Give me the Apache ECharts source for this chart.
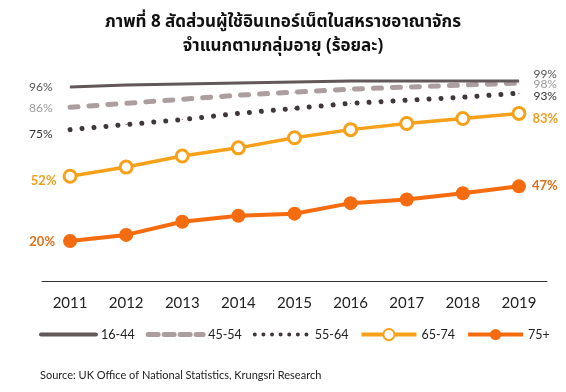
<!DOCTYPE html>
<html><head><meta charset="utf-8">
<script src="https://cdn.jsdelivr.net/npm/echarts@6/dist/echarts.min.js"></script>
<style>html,body{margin:0;padding:0;background:#fff}#c{width:566px;height:392px}</style>
</head><body><div id="c"></div>
<script>
const years = ['2011','2012','2013','2014','2015','2016','2017','2018','2019'];
const s1644 = [96, 97, 97.5, 98, 98.5, 99, 99, 99, 99];
const s4554 = [86, 88, 90, 92, 93.5, 95, 96, 97, 98];
const s5564 = [75, 77.5, 80, 83, 85.5, 88, 89.5, 91, 93];
const s6574 = [52, 56.5, 62, 66, 71, 75, 78, 80.5, 83];
const s75 = [20, 23, 29.5, 32.5, 33.5, 38.7, 40.5, 43.6, 47];
const names = ['16-44','45-54','55-64','65-74','75+'];
const titleText = 'ภาพที่ 8 สัดส่วนผู้ใช้อินเทอร์เน็ตในสหราชอาณาจักร\nจำแนกตามกลุ่มอายุ (ร้อยละ)';
const sourceText = 'Source: UK Office of National Statistics, Krungsri Research';

const FONT = 'Lato, "Open Sans", sans-serif';
const C1 = '#625859', C2 = '#ac9e9e', C3 = '#3f383b', C4 = '#f7a11a', C5 = '#f46b10';
function withEndLabels(arr, leftCfg, rightCfg) {
  return arr.map((v, i) => {
    if (i === 0) return {value: v, label: Object.assign({show: true, position: 'left', formatter: Math.round(v) + '%'}, leftCfg)};
    if (i === arr.length - 1) return {value: v, label: Object.assign({show: true, position: 'right', formatter: Math.round(v) + '%'}, rightCfg)};
    return v;
  });
}
const chart = echarts.init(document.getElementById('c'));
chart.setOption({
  animation: false,
  title: {
    text: titleText, left: 'center', top: 7,
    textStyle: {fontFamily: '"Noto Sans Thai", "Noto Sans", "DejaVu Sans", sans-serif', fontSize: 17, fontWeight: 'bold', color: '#111', lineHeight: 24}
  },
  graphic: [{type: 'text', left: 40, top: 370, style: {text: sourceText, font: '11px ' + FONT, fill: '#222'}}],
  legend: {
    top: 328, left: 39, width: 527, padding: 0, itemWidth: 55, itemHeight: 14, itemGap: 11,
    textStyle: {fontFamily: FONT, fontSize: 12.5, color: '#222'},
    data: [
      {name: names[0], itemStyle: {opacity: 0}, lineStyle: {color: C1, width: 4, cap: 'round'}},
      {name: names[1], itemStyle: {opacity: 0}, lineStyle: {color: C2, width: 5, type: [10, 6], cap: 'round'}},
      {name: names[2], itemStyle: {opacity: 0}, lineStyle: {color: C3, width: 4, type: [0.01, 8.6], cap: 'round'}},
      {name: names[3], lineStyle: {color: C4, width: 4}},
      {name: names[4], lineStyle: {color: C5, width: 4}}
    ]
  },
  grid: {left: 42, right: 19, top: 79, bottom: 110.5},
  xAxis: {
    type: 'category', data: years, boundaryGap: true,
    axisLine: {lineStyle: {color: '#333', width: 1}}, axisTick: {show: false},
    axisLabel: {fontFamily: FONT, fontSize: 15, color: '#222', margin: 14}
  },
  yAxis: {type: 'value', min: 0, max: 100, show: false, splitLine: {show: false}},
  series: [
    {name: names[0], type: 'line', symbol: 'circle', symbolSize: 1, z: 5,
     lineStyle: {color: C1, width: 3},
     itemStyle: {color: C1},
     label: {fontFamily: FONT, fontSize: 12, color: '#555'},
     data: withEndLabels(s1644, {offset: [0, 0], color: '#555', distance: 17}, {offset: [0, -7], color: '#555', distance: 14})},
    {name: names[1], type: 'line', symbol: 'circle', symbolSize: 1, z: 4,
     lineStyle: {color: C2, width: 5, type: [8, 11], cap: 'round'},
     itemStyle: {color: C2},
     label: {fontFamily: FONT, fontSize: 12, color: '#999'},
     data: withEndLabels(s4554, {offset: [0, 1], color: '#999', distance: 17}, {offset: [0, 1], color: '#999', distance: 14})},
    {name: names[2], type: 'line', symbol: 'circle', symbolSize: 1, z: 4,
     lineStyle: {color: C3, width: 5, type: [0.01, 12], cap: 'round'},
     itemStyle: {color: C3},
     label: {fontFamily: FONT, fontSize: 12, color: '#333'},
     data: withEndLabels(s5564, {offset: [0, 4], color: '#333', distance: 17}, {offset: [0, 3], color: '#333', distance: 14})},
    {name: names[3], type: 'line', symbol: 'circle', symbolSize: 12, z: 6,
     lineStyle: {color: C4, width: 3.5},
     itemStyle: {color: '#fff', borderColor: C4, borderWidth: 3},
     label: {fontFamily: FONT, fontSize: 13, fontWeight: 'bold', color: '#f0a020'},
     data: withEndLabels(s6574, {offset: [0, 5], color: '#f0a020', distance: 6}, {offset: [0, 5], color: '#f0a020', distance: 6})},
    {name: names[4], type: 'line', symbol: 'circle', symbolSize: 14, z: 6,
     lineStyle: {color: C5, width: 4},
     itemStyle: {color: C5},
     label: {fontFamily: FONT, fontSize: 13, fontWeight: 'bold', color: '#e0701c'},
     data: withEndLabels(s75, {offset: [0, 1], color: '#e0701c', distance: 8}, {offset: [0, -1], color: '#e0701c', distance: 6})}
  ]
});
</script></body></html>
